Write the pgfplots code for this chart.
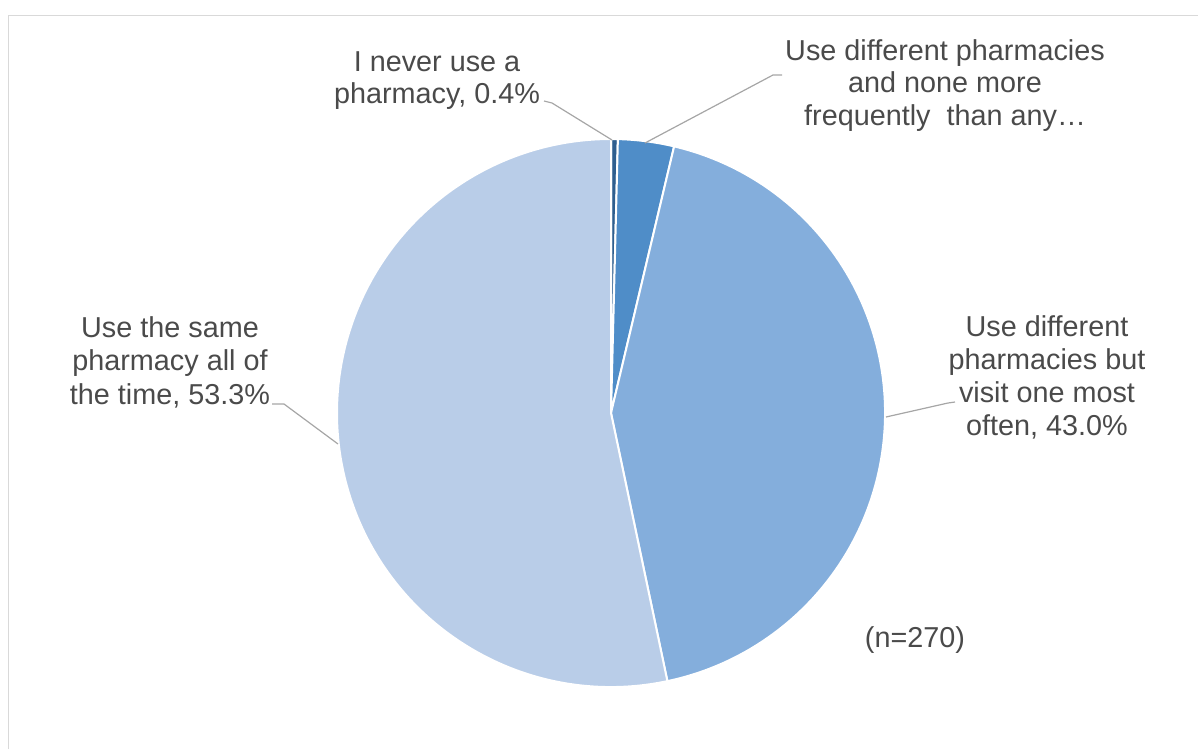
\documentclass[border=0pt]{standalone}
\usepackage{pgfplots}
\usepackage{pgfplotstable}
\pgfplotsset{compat=1.18}
\usepackage{fontspec}
\setmainfont{Liberation Sans}
\definecolor{c1}{HTML}{2F5F8F}
\definecolor{c2}{HTML}{4F8DC8}
\definecolor{c3}{HTML}{84AEDC}
\definecolor{c4}{HTML}{B9CDE8}
\definecolor{txt}{HTML}{4A4A4A}
\definecolor{lead}{HTML}{A6A6A6}
\definecolor{frame}{HTML}{D9D9D9}

\pgfplotstableread{
value color
0.4 c1
3.3 c2
43.0 c3
53.3 c4
}\piedata

\begin{document}
\begin{tikzpicture}
\begin{axis}[width=1198bp, height=749bp, scale only axis,
  xmin=0, xmax=1198, ymin=0, ymax=749, y dir=reverse,
  hide axis, clip=false]
% frame
\draw[frame, line width=1.5bp] (axis cs:8.5,749) -- (axis cs:8.5,15.5) -- (axis cs:1198,15.5);
% pie
\def\cum{0}
\pgfplotsforeachungrouped \i in {0,...,3}{%
  \pgfplotstablegetelem{\i}{value}\of\piedata \let\v\pgfplotsretval
  \pgfplotstablegetelem{\i}{color}\of\piedata \let\col\pgfplotsretval
  \pgfmathsetmacro\sa{90-3.6*\cum}%
  \pgfmathsetmacro\ea{90-3.6*(\cum+\v)}%
  \edef\temp{\noexpand\fill[\col, draw=white, line width=2bp, line join=round]
    (axis cs:611,413) -- ++(\sa:274bp) arc[start angle=\sa, end angle=\ea, radius=274bp] -- cycle;}%
  \temp
  \pgfmathsetmacro\cum{\cum+\v}%
}
% leader lines
\draw[lead, line width=1.2bp] (axis cs:544,101) -- (axis cs:552,103) -- (axis cs:612,140);
\draw[lead, line width=1.2bp] (axis cs:782,75) -- (axis cs:773,75) -- (axis cs:645,143);
\draw[lead, line width=1.2bp] (axis cs:272,404) -- (axis cs:284,404) -- (axis cs:338,444);
\draw[lead, line width=1.2bp] (axis cs:955,402) -- (axis cs:948,403) -- (axis cs:886,417);
% labels
\tikzset{lbl/.style={anchor=base, text=txt, inner sep=0pt, font=\fontsize{28.9}{33}\selectfont}}
\node[lbl] at (axis cs:437,72) {I never use a};
\node[lbl] at (axis cs:437,104) {pharmacy, 0.4\%};
\node[lbl] at (axis cs:945,61) {Use different pharmacies};
\node[lbl] at (axis cs:945,93) {and none more};
\node[lbl] at (axis cs:945,125) {frequently\ \ than any…};
\node[lbl] at (axis cs:170,337) {Use the same};
\node[lbl] at (axis cs:170,370) {pharmacy all of};
\node[lbl] at (axis cs:170,404) {the time, 53.3\%};
\node[lbl] at (axis cs:1047,336) {Use different};
\node[lbl] at (axis cs:1047,369) {pharmacies but};
\node[lbl] at (axis cs:1047,402) {visit one most};
\node[lbl] at (axis cs:1047,435) {often, 43.0\%};
\node[lbl] at (axis cs:915,647) {(n=270)};
\end{axis}
\pgfresetboundingbox
\path (current axis.south west) rectangle (current axis.north east);
\end{tikzpicture}
\end{document}
